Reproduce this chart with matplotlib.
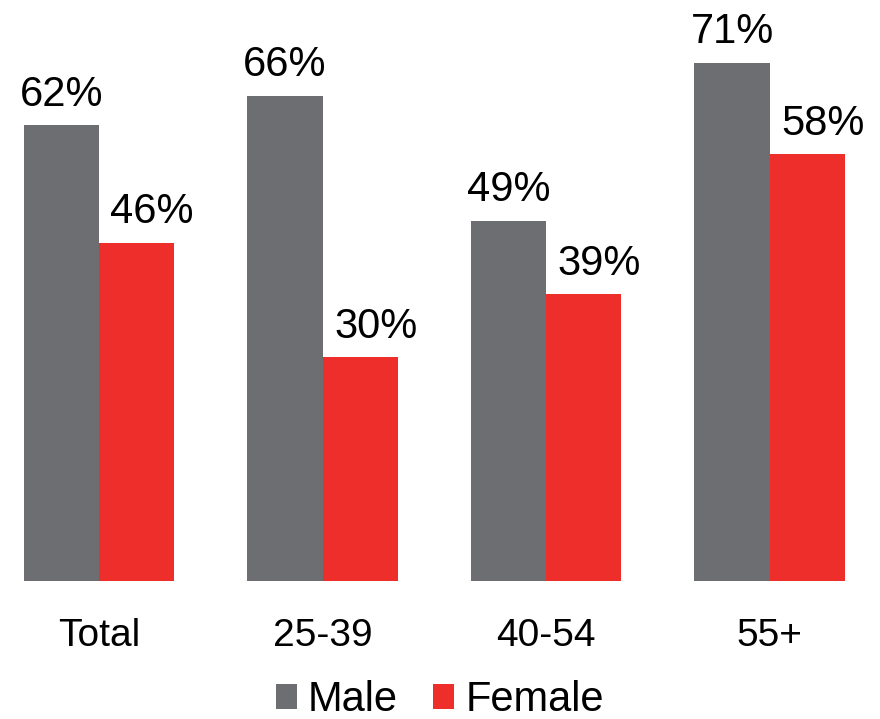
import numpy as np
import matplotlib.pyplot as plt

plt.rcParams['font.family'] = ['Liberation Sans', 'DejaVu Sans']

categories = ['Total', '25-39', '40-54', '55+']
male = [62, 66, 49, 70.5]
female = [46, 30.4, 39, 58]
male_labels = ['62%', '66%', '49%', '71%']
female_labels = ['46%', '30%', '39%', '58%']

gray = '#6D6E71'
red = '#EE2E2A'

fig = plt.figure(figsize=(8.8, 7.19), dpi=100)
ax = fig.add_axes([0, 138 / 719, 1, 581 / 719])

x = np.arange(len(categories))
w = 0.336
b1 = ax.bar(x - w / 2, male, w, color=gray, label='Male')
b2 = ax.bar(x + w / 2, female, w, color=red, label='Female')

# female labels sit a little right of their bars in the original
for bars, vals, labs, dx in [(b1, male, male_labels, 0.0),
                             (b2, female, female_labels, 0.07)]:
    for r, v, t in zip(bars, vals, labs):
        ax.text(r.get_x() + r.get_width() / 2 + dx, v + 1.4, t,
                ha='center', va='bottom', fontsize=30)

ax.set_xlim(-0.443, 3.494)
ax.set_ylim(0, 79)
ax.set_xticks(x)
ax.set_xticklabels(categories, fontsize=28)
ax.tick_params(axis='x', length=0, pad=27)
ax.set_yticks([])
for s in ax.spines.values():
    s.set_visible(False)

fig.legend(loc='center', bbox_to_anchor=(0.5, 1 - 700 / 719), ncol=2,
           frameon=False, fontsize=30, handlelength=0.5, handleheight=0.55,
           handletextpad=0.27, columnspacing=0.85)

fig.savefig('out.png', dpi=100)
